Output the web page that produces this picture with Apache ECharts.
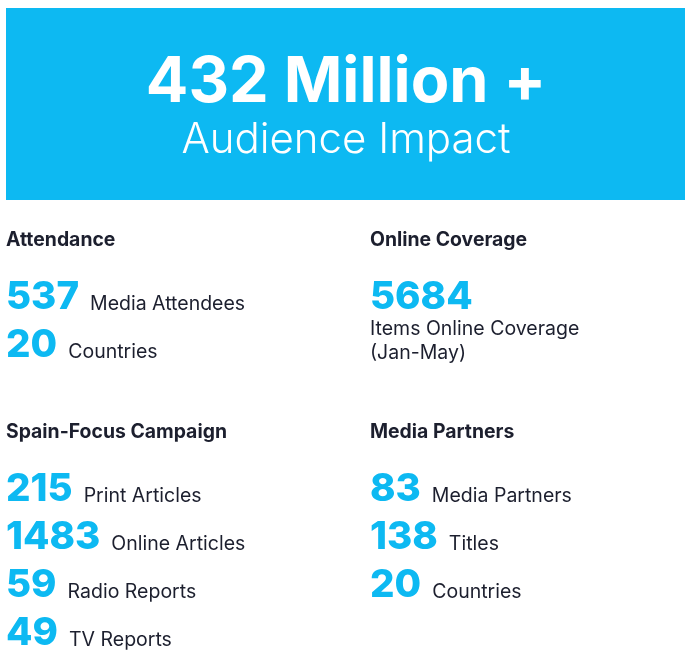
<!DOCTYPE html>
<html>
<head>
<meta charset="utf-8">
<style>
  html, body { margin: 0; padding: 0; background: #fff; }
  #main { width: 690px; height: 656px; }
</style>
<script src="https://cdn.jsdelivr.net/npm/echarts@6/dist/echarts.min.js"></script>
</head>
<body>
<div id="main"></div>
<script>
var headlineValue = '432 Million +';
var headlineLabel = 'Audience Impact';

var groupTitles = ['Attendance', 'Online Coverage', 'Spain-Focus Campaign', 'Media Partners'];
var attendanceValues = ['537', '20'];
var attendanceLabels = ['Media Attendees', 'Countries'];
var onlineValues = ['5684'];
var onlineLabels = ['Items Online Coverage\n(Jan-May)'];
var spainValues = ['215', '1483', '59', '49'];
var spainLabels = ['Print Articles', 'Online Articles', 'Radio Reports', 'TV Reports'];
var partnerValues = ['83', '138', '20'];
var partnerLabels = ['Media Partners', 'Titles', 'Countries'];

var FONT = 'Inter, "Open Sans", sans-serif';
var BLUE = '#0db9f2';
var DARK = '#1c1f2e';
var NUM_FONT = '800 38.5px ' + FONT;
var TITLE_FONT = '700 19.4px ' + FONT;
var CAPTION_FONT = '400 19.5px ' + FONT;

var chart = echarts.init(document.getElementById('main'));
var elements = [];

elements.push({ type: 'rect', shape: { x: 6, y: 8, width: 679, height: 192 }, style: { fill: BLUE } });
elements.push({ type: 'text', x: 346, y: 83, style: { text: headlineValue, fill: '#fff', font: '700 63px ' + FONT, textAlign: 'center', textVerticalAlign: 'middle' } });
elements.push({ type: 'text', x: 346, y: 140, style: { text: headlineLabel, fill: '#fff', font: '300 42px ' + FONT, textAlign: 'center', textVerticalAlign: 'middle' } });

function addGroup(x, titleY, title, values, labels, firstY) {
    elements.push({ type: 'text', x: x, y: titleY, style: { text: title, fill: DARK, font: TITLE_FONT, textVerticalAlign: 'middle' } });
    values.forEach(function (v, i) {
        var y = firstY + i * 48;
        elements.push({ type: 'text', x: x, y: y, style: { text: v, fill: BLUE, font: NUM_FONT, textVerticalAlign: 'middle' } });
        // width of the number decides where the caption starts
        var w = echarts.format.getTextRect ? echarts.format.getTextRect(v, NUM_FONT).width : v.length * 24;
        elements.push({ type: 'text', x: x + w + 11, y: y + 7, style: { text: labels[i], fill: DARK, font: CAPTION_FONT, textVerticalAlign: 'middle' } });
    });
}

addGroup(6, 240, groupTitles[0], attendanceValues, attendanceLabels, 297);
addGroup(6, 432, groupTitles[2], spainValues, spainLabels, 489);
addGroup(370, 432, groupTitles[3], partnerValues, partnerLabels, 489);

// online coverage caption sits under the number, not beside it
elements.push({ type: 'text', x: 370, y: 240, style: { text: groupTitles[1], fill: DARK, font: TITLE_FONT, textVerticalAlign: 'middle' } });
elements.push({ type: 'text', x: 370, y: 297, style: { text: onlineValues[0], fill: BLUE, font: NUM_FONT, textVerticalAlign: 'middle' } });
elements.push({ type: 'text', x: 370, y: 341, style: { text: onlineLabels[0], fill: DARK, font: CAPTION_FONT, lineHeight: 24, textVerticalAlign: 'middle' } });

chart.setOption({ animation: false, backgroundColor: '#fff', graphic: { elements: elements } });
</script>
</body>
</html>
